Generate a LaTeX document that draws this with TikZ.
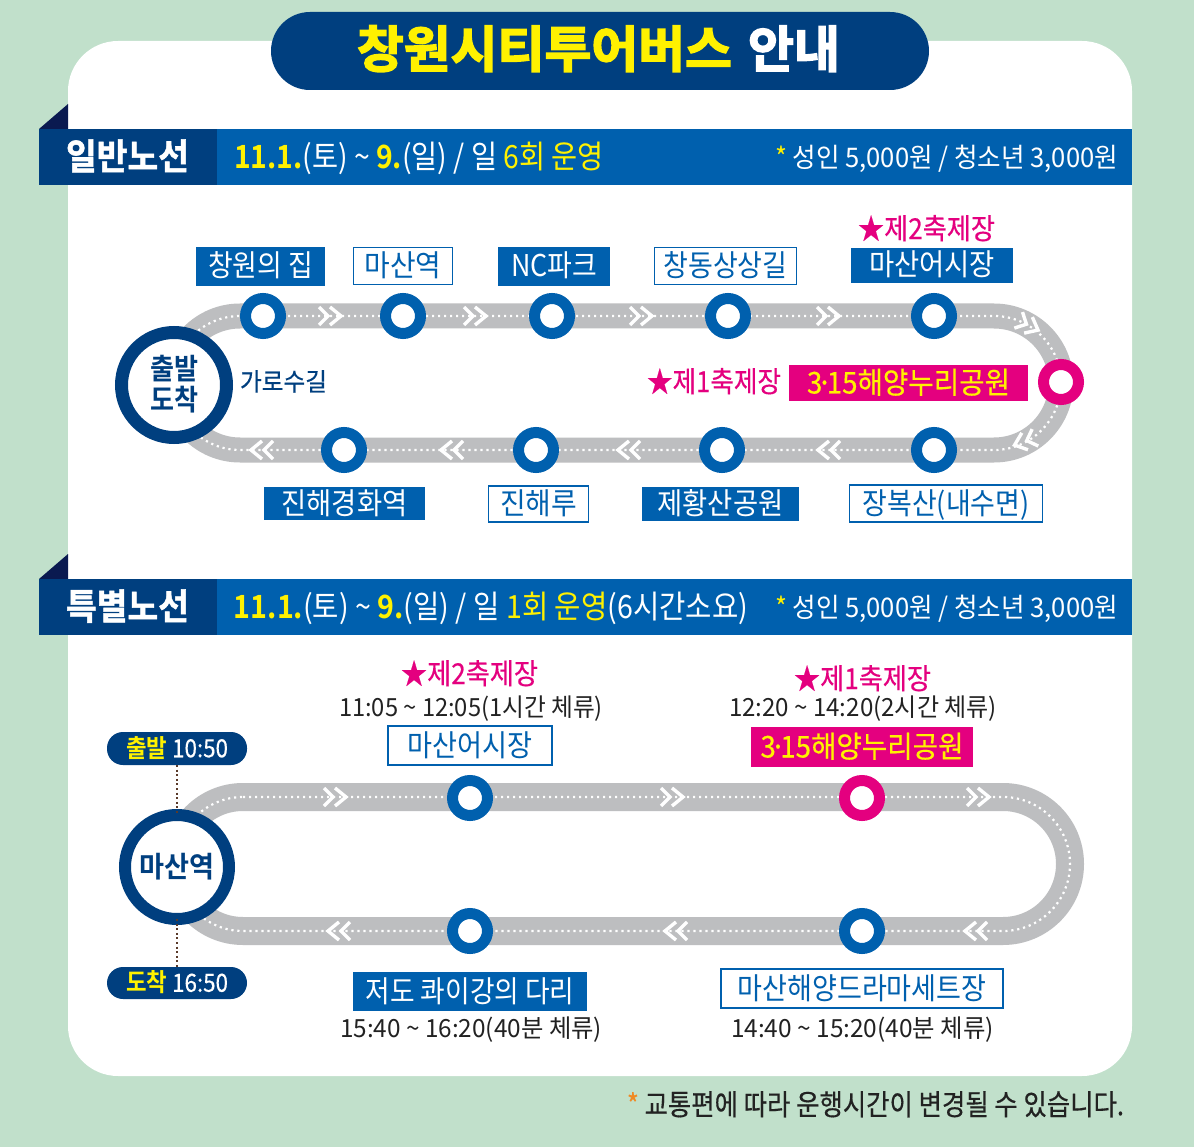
\documentclass[tikz,border=0pt]{standalone}
\usepackage{fontspec}
\usepackage{graphicx}
\setmainfont{Noto Sans CJK KR}
\newfontfamily\krt[FakeBold=3]{Noto Sans CJK KR Bold}
\newfontfamily\krb[FakeBold=1.5]{Noto Sans CJK KR Bold}
\newfontfamily\krs{Noto Sans CJK KR Bold}
\newfontfamily\krm[FakeBold=0.4]{Noto Sans CJK KR}
\definecolor{bgc}{HTML}{C1E0CB}
\definecolor{navy}{HTML}{003F7F}
\definecolor{blu}{HTML}{0060AE}
\definecolor{pnk}{HTML}{E4007F}
\definecolor{ylw}{HTML}{FFF100}
\definecolor{gry}{HTML}{BDBEC0}
\definecolor{fold}{HTML}{0A1A50}
\definecolor{inkc}{HTML}{222222}
\definecolor{org}{HTML}{F08A24}
\definecolor{brn}{HTML}{5A3A2A}
\newcommand\fw[2]{\raisebox{0pt}[0.70em][-0.50em]{\resizebox*{#1pt}{\totalheight}{#2}}}
\newcommand\tsf{3\kern-0.2em·\kern-0.2em 15해양누리공원}
\newcommand\trackone{(240,316) -- (994,316) .. controls (1031,316) and (1061,346) .. (1061,383) .. controls (1061,420) and (1031,450) .. (994,450) -- (240,450) .. controls (203,450) and (173,420) .. (173,383) .. controls (173,346) and (203,316) .. (240,316) -- cycle}
\newcommand\tracktwo{(243,797) -- (1003,797) .. controls (1040,797) and (1070,827) .. (1070,864) .. controls (1070,901) and (1040,931) .. (1003,931) -- (243,931) .. controls (206,931) and (176,901) .. (176,864) .. controls (176,827) and (206,797) .. (243,797) -- cycle}
\tikzset{
  x=1pt,y=-1pt,
  every node/.style={inner sep=0pt,outer sep=0pt,align=center},
  road/.style={draw=gry,line width=25pt},
  roadb/.style={draw=gry,line width=28pt},
  dots/.style={draw=white,line width=2.2pt,dash pattern=on 2.2pt off 3.8pt},
  ring/.style={circle,draw=blu,fill=white,line width=11pt,minimum size=35pt},
  pring/.style={ring,draw=pnk},
  bigring/.style={circle,draw=navy,fill=white,line width=13pt,minimum size=105pt},
  fillbox/.style={fill=blu,text=white,font=\fontsize{30}{32}\selectfont},
  linebox/.style={draw=blu,fill=white,line width=1.4pt,text=blu,font=\fontsize{30}{32}\selectfont},
  pinkbox/.style={fill=pnk,text=ylw,font=\krm\fontsize{30}{32}\selectfont},
  pillbox/.style={rounded corners=16pt,fill=navy,text=white,font=\krm\fontsize{25}{27}\selectfont},
  lbl/.style={text=inkc,font=\fontsize{25}{27}\selectfont},
  star/.style={text=pnk,font=\krm\fontsize{29}{31}\selectfont},
  head/.style={text=white,font=\fontsize{32}{34}\selectfont},
  headr/.style={text=white,font=\fontsize{27}{29}\selectfont},
  chev/.pic={\draw[white,line width=3.4pt,line join=miter] (-13,-9)--(-4,0)--(-13,9) (-2,-9)--(9,0)--(-2,9);},
}
\begin{document}
\begin{tikzpicture}
\useasboundingbox (0,0) rectangle (1194,1147);
\fill[bgc] (0,0) rectangle (1194,1147);
\fill[white,rounded corners=50pt] (68,41) rectangle (1132,1076);
% title
\node[fill=navy,rounded corners=39pt,minimum width=658pt,minimum height=78pt] (titlepill) at (600,51) {};
\node[text=ylw,font=\krt\fontsize{50}{52}\selectfont] (title1) at (544.5,50) {\fw{375}{창원시티투어버스}};
\node[text=white,font=\krt\fontsize{50}{52}\selectfont] (title2) at (794,50) {\fw{92}{안내}};
% header 1
\fill[fold] (39,129) -- (68,104) -- (68,129) -- cycle;
\node[fill=blu,minimum width=915pt,minimum height=56pt] (bar1) at (674.5,157) {};
\node[fill=navy,minimum width=178pt,minimum height=56pt] (tag1) at (128,157) {};
\node[text=white,font=\krb\fontsize{36}{38}\selectfont] (tag1t) at (127.5,157) {\fw{123}{일반노선}};
\node[head] (date1) at (419,157) {\fw{370}{\textcolor{ylw}{\krs 11.1.}(토) \textasciitilde{} \textcolor{ylw}{\krs 9.}(일) / 일 \textcolor{ylw}{6회 운영}}};
\node[headr] (price1) at (946.5,158) {\fw{343}{\textcolor{ylw}{*} 성인 5,000원 / 청소년 3,000원}};
% route 1
\draw[road] \trackone;
\draw[dots] \trackone;
\foreach \p in {332,477,643,830} \pic at (\p,316) {chev};
\pic[rotate=-27] at (1030,326) {chev};
\pic[rotate=200] at (1023,442) {chev};
\foreach \p in {260,450,627,827} \pic[rotate=180] at (\p,450) {chev};
\foreach \n/\x/\y in {a1/263/316,a2/403/316,a3/552/316,a4/728/316,a5/934/316,a7/934/450,a8/722/450,a9/536/450,a10/344/450}
  \node[ring] (\n) at (\x,\y) {};
\node[pring] (a6) at (1061,382) {};
\node[bigring] (start1) at (174,385) {};
\node[text=navy,font=\krs\fontsize{29}{31}\selectfont] (start1a) at (174,369) {\fw{48}{출발}};
\node[text=navy,font=\krs\fontsize{29}{31}\selectfont] (start1b) at (174,400) {\fw{48}{도착}};
\node[text=navy,font=\krm\fontsize{25}{27}\selectfont] (garo) at (283.5,382) {\fw{87}{가로수길}};
\node[fillbox,minimum width=129pt,minimum height=39pt] (b1) at (260.5,266.5) {\fw{105}{창원의 집}};
\node[linebox,minimum width=99pt,minimum height=37pt] (b2) at (403,266) {\fw{77}{마산역}};
\node[fillbox,minimum width=112pt,minimum height=39pt] (b3) at (554,266.5) {\fw{86}{NC파크}};
\node[linebox,minimum width=142pt,minimum height=37pt] (b4) at (725.5,266) {\fw{124}{창동상상길}};
\node[fillbox,minimum width=162pt,minimum height=35pt] (b5) at (932,265.5) {\fw{126}{마산어시장}};
\node[star] (s2a) at (926.5,229) {\fw{137}{★제2축제장}};
\node[pinkbox,minimum width=239pt,minimum height=36pt] (b6) at (908.5,383) {\fw{203}{\tsf}};
\node[star] (s1a) at (714,382) {\fw{134}{★제1축제장}};
\node[fillbox,minimum width=161pt,minimum height=33pt] (b10) at (344.5,503.5) {\fw{126}{진해경화역}};
\node[linebox,minimum width=100pt,minimum height=36pt] (b9) at (538.5,504) {\fw{77}{진해루}};
\node[fillbox,minimum width=157pt,minimum height=34pt] (b8) at (720.5,504) {\fw{126}{제황산공원}};
\node[linebox,minimum width=193pt,minimum height=37pt] (b7) at (946,503.5) {\fw{167}{장복산(내수면)}};
% header 2
\fill[fold] (39,579) -- (68,554) -- (68,579) -- cycle;
\node[fill=blu,minimum width=915pt,minimum height=56pt] (bar2) at (674.5,607) {};
\node[fill=navy,minimum width=178pt,minimum height=56pt] (tag2) at (128,607) {};
\node[text=white,font=\krb\fontsize{36}{38}\selectfont] (tag2t) at (127.5,607) {\fw{123}{특별노선}};
\node[head] (date2) at (491,607) {\fw{514}{\textcolor{ylw}{\krs 11.1.}(토) \textasciitilde{} \textcolor{ylw}{\krs 9.}(일) / 일 \textcolor{ylw}{1회 운영}(6시간소요)}};
\node[headr] (price2) at (946.5,608) {\fw{343}{\textcolor{ylw}{*} 성인 5,000원 / 청소년 3,000원}};
% route 2
\draw[roadb] \tracktwo;
\draw[dots] \tracktwo;
\foreach \p in {337,674,980} \pic at (\p,797) {chev};
\foreach \p in {337,674,974} \pic[rotate=180] at (\p,931) {chev};
\foreach \n/\x/\y in {c1/470/798,c3/862/931,c4/470/931}
  \node[ring] (\n) at (\x,\y) {};
\node[pring] (c2) at (862,798) {};
\node[bigring,draw=navy,line width=12pt,minimum size=104pt] (start2) at (177,867) {};
\node[text=navy,font=\krs\fontsize{29}{31}\selectfont] (start2t) at (177,867) {\fw{75}{마산역}};
\node[pillbox,minimum width=140pt,minimum height=33pt] (p1) at (177,748.5) {\fw{102}{\textcolor{ylw}{\krs 출발} 10:50}};
\node[pillbox,minimum width=140pt,minimum height=32pt] (p2) at (177,983) {\fw{102}{\textcolor{ylw}{\krs 도착} 16:50}};
\draw[brn,line width=2pt,dash pattern=on 2pt off 2.6pt] (p1) -- (start2);
\draw[brn,line width=2pt,dash pattern=on 2pt off 2.6pt] (start2) -- (p2);
\node[star] (s2b) at (469.5,674) {\fw{137}{★제2축제장}};
\node[lbl] (t1) at (471,708) {\fw{264}{11:05 \textasciitilde{} 12:05(1시간 체류)}};
\node[linebox,minimum width=164pt,minimum height=39pt] (d1) at (470,745.5) {\fw{125}{마산어시장}};
\node[star] (s1b) at (862.5,679) {\fw{137}{★제1축제장}};
\node[lbl] (t2) at (863,708) {\fw{268}{12:20 \textasciitilde{} 14:20(2시간 체류)}};
\node[pinkbox,minimum width=222pt,minimum height=40pt] (d2) at (862,747) {\fw{203}{\tsf}};
\node[fillbox,minimum width=234pt,minimum height=39pt] (d4) at (470,991.5) {\fw{209}{저도 콰이강의 다리}};
\node[lbl] (t4) at (471,1029) {\fw{262}{15:40 \textasciitilde{} 16:20(40분 체류)}};
\node[linebox,minimum width=282pt,minimum height=39pt] (d3) at (862,988.5) {\fw{249}{마산해양드라마세트장}};
\node[lbl] (t3) at (862.5,1029) {\fw{263}{14:40 \textasciitilde{} 15:20(40분 체류)}};
% footer
\node[text=inkc,font=\krm\fontsize{29}{31}\selectfont] (foot) at (875.5,1105) {\fw{497}{\textcolor{org}{*} 교통편에 따라 운행시간이 변경될 수 있습니다.}};
\end{tikzpicture}
\end{document}
